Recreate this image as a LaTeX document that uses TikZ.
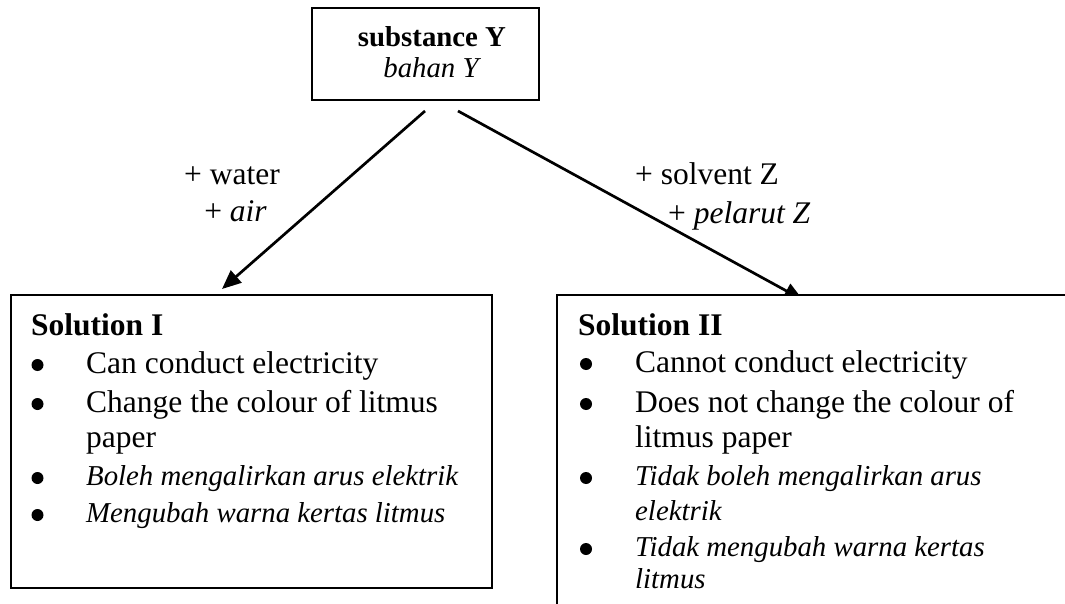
\documentclass[tikz,border=0pt]{standalone}
\usepackage{fontspec}
\setmainfont{Liberation Serif}
\usetikzlibrary{arrows.meta}
\tikzset{
  boxline/.style={draw, line width=2pt, inner sep=0pt, outer sep=0pt},
  big/.style={font=\fontsize{31.5}{37}\selectfont, inner sep=0pt, anchor=base west},
  ital/.style={font=\fontsize{28.8}{37}\selectfont\itshape, inner sep=0pt, anchor=base west},
  bul/.style={circle, fill=black, inner sep=0pt, minimum size=12pt},
  topfont/.style={font=\fontsize{28.8}{31}\selectfont, inner sep=0pt, anchor=base},
  conn/.style={line width=2.7pt, -{Triangle[length=19pt,width=16pt]}},
}
\begin{document}
\begin{tikzpicture}[x=1pt,y=-1pt]
\useasboundingbox (0,0) rectangle (1065,604);
\clip (0,0) rectangle (1065,604);
% top box
\node[boxline, anchor=north west, minimum width=227pt, minimum height=92pt] (sub) at (312,8) {};
\node[topfont] (subA) at (432,47) {\bfseries substance Y};
\node[topfont] (subB) at (431,78) {\itshape bahan Y};
% connectors
\coordinate (s1) at (425,111);
\coordinate (t1) at (222,289);
\coordinate (s2) at (458,111);
\coordinate (t2) at (803,300);
\draw[conn] (s1) -- (t1);
\draw[conn] (s2) -- (t2);
% labels
\node[big, anchor=base east] (lw) at (280,185) {+ water};
\node[big, anchor=base east] (la) at (267,222) {+ \textit{air}};
\node[big] (ls) at (635,185) {+ solvent Z};
\node[big] (lp) at (668,223) {+ \textit{pelarut Z}};
% left box
\node[boxline, anchor=north west, minimum width=481pt, minimum height=293pt] (sol1) at (11,295) {};
\node[big] (h1) at (31,335) {\bfseries Solution I};
\node[bul] (b11) at (37.5,365) {};
\node[big] (a11) at (86,373) {Can conduct electricity};
\node[bul] (b12) at (37.5,404) {};
\node[big] (a12) at (86,412) {Change the colour of litmus};
\node[big] (a12b) at (86,447) {paper};
\node[bul] (b13) at (37.5,478) {};
\node[ital] (a13) at (86,485) {Boleh mengalirkan arus elektrik};
\node[bul] (b14) at (37.5,515) {};
\node[ital] (a14) at (86,522) {Mengubah warna kertas litmus};
% right box (cut off by the page edge)
\node[boxline, fill=white, anchor=north west, minimum width=540pt, minimum height=340pt] (sol2) at (557,295) {};
\node[big] (h2) at (578,335) {\bfseries Solution II};
\node[bul] (b21) at (586,364) {};
\node[big] (a21) at (635,372) {Cannot conduct electricity};
\node[bul] (b22) at (586,404) {};
\node[big] (a22) at (635,412) {Does not change the colour of};
\node[big] (a22b) at (635,447) {litmus paper};
\node[bul] (b23) at (586,478) {};
\node[ital] (a23) at (635,485) {Tidak boleh mengalirkan arus};
\node[ital] (a23b) at (635,520) {elektrik};
\node[bul] (b24) at (586,549) {};
\node[ital] (a24) at (635,556) {Tidak mengubah warna kertas};
\node[ital] (a24b) at (635,588) {litmus};
\end{tikzpicture}
\end{document}
